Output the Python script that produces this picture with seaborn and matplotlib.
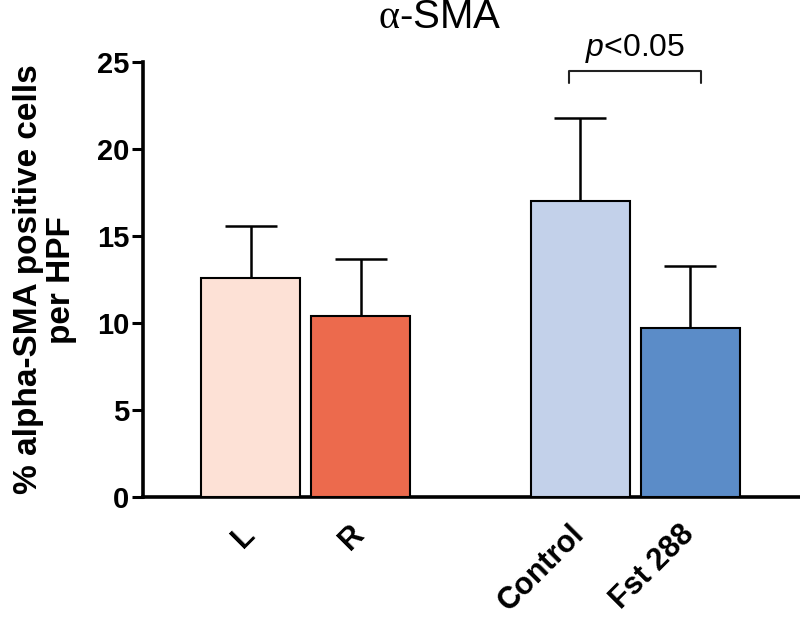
import numpy as np
import pandas as pd
import matplotlib
matplotlib.use("Agg")
import matplotlib.pyplot as plt
import matplotlib.transforms as mtransforms
import seaborn as sns

# === DATA ===
groups = ["L", "R", "Control", "Fst 288"]
positions = [0, 1, 3, 4]
means = [12.6, 10.4, 17.0, 9.7]
sems = [3.0, 3.3, 4.8, 3.6]
colors = ["#FDE1D6", "#EC6A4D", "#C3D1EA", "#5B8CC8"]

# === STYLE ===
sns.set_style("ticks")
plt.rcParams["font.family"] = ["Liberation Sans", "DejaVu Sans"]
plt.rcParams["mathtext.fontset"] = "custom"
plt.rcParams["mathtext.rm"] = "Liberation Serif"
plt.rcParams["mathtext.it"] = "Liberation Sans:italic"
for key in ["text.color", "axes.labelcolor", "xtick.color", "ytick.color"]:
    plt.rcParams[key] = "black"

df = pd.DataFrame({"group": groups, "pos": positions, "mean": means})

fig = plt.figure(figsize=(8, 6.2), dpi=100)
ax = fig.add_axes([0.179, 0.198, 0.821, 0.702])

sns.barplot(data=df, x="pos", y="mean", hue="group", palette=colors,
            native_scale=True, width=0.9, saturation=1, edgecolor="black",
            linewidth=1.5, legend=False, ax=ax, zorder=3)

# upper error bars only
ax.errorbar(positions, means, yerr=[np.zeros(len(sems)), sems], fmt="none",
            ecolor="black", elinewidth=1.8, capsize=18.5, capthick=1.8, zorder=2)

ax.set_xlim(-0.98, 5.0)
ax.set_ylim(0, 25)
ax.set_yticks([0, 5, 10, 15, 20, 25])
ax.set_yticklabels(["0", "5", "10", "15", "20", "25"], fontsize=21, fontweight="bold")
ax.set_xticks(positions)
ax.set_xticklabels([])
ax.tick_params(axis="x", length=0)
ax.tick_params(axis="y", length=8, width=2.2, pad=2)
ax.set_xlabel("")
ax.set_ylabel("% alpha-SMA positive cells\nper HPF", fontsize=24, fontweight="bold",
              labelpad=14, linespacing=1.1)

# rotated group labels, anchored just left of each bar centre
base = mtransforms.blended_transform_factory(ax.transData, ax.transAxes)
offset = mtransforms.ScaledTranslation(-0.11, -0.22, fig.dpi_scale_trans)
for pos, name in zip(positions, groups):
    ax.text(pos, 0, name, transform=base + offset, fontsize=22, fontweight="bold",
            rotation=45, ha="right", va="top", rotation_mode="anchor")

sns.despine(ax=ax)
for side in ["left", "bottom"]:
    ax.spines[side].set_linewidth(2.6)
    ax.spines[side].set_color("black")

# significance bracket between Control and Fst 288
bx0, bx1, by = 2.9, 4.1, 24.5
ax.plot([bx0, bx0, bx1, bx1], [by - 0.7, by, by, by - 0.7], color="#222222",
        lw=1.5, clip_on=False)
ax.text((bx0 + bx1) / 2, by + 0.3, r"$\mathit{p}$<0.05", ha="center", va="bottom",
        fontsize=23)

fig.text(0.55, 0.972, r"$\mathrm{\alpha}$-SMA", ha="center", va="center", fontsize=29)

fig.savefig("out.png", dpi=100)
